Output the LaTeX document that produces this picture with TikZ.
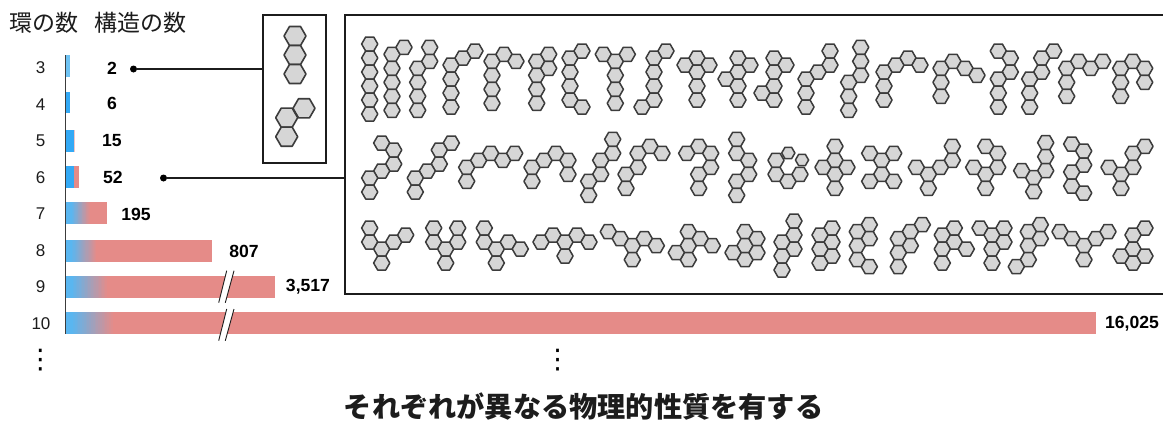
\documentclass[tikz,border=0pt]{standalone}
\usepackage{fontspec}
\setmainfont{Liberation Sans}
\newfontfamily\cjk{Noto Sans CJK JP}
\newfontfamily\symf{DejaVu Sans}
\definecolor{hexfill}{HTML}{D6D6D6}
\definecolor{hexline}{HTML}{3C3C3C}
\definecolor{barblue}{HTML}{5AB6F0}
\definecolor{barvivid}{HTML}{33A9F5}
\definecolor{barpale}{HTML}{6FC3F3}
\definecolor{barred}{HTML}{E58B88}
\definecolor{inkc}{HTML}{1C1C1C}
\tikzset{
  hexcell/.style={draw=hexline,fill=hexfill,line width=1.5pt,line join=round},
  bighex/.style={hexcell,line width=1.6pt},
  framebox/.style={draw=inkc,line width=1.5pt,inner sep=0pt,minimum width=63pt,minimum height=148pt},
  frameline/.style={draw=inkc,line width=1.5pt},
  leader/.style={draw=inkc,line width=1.5pt},
  dotend/.style={circle,fill=black,inner sep=0pt,minimum size=7pt},
  ringlabel/.style={font=\fontsize{17}{20}\selectfont,text=inkc,inner sep=0pt},
  countlabel/.style={font=\fontsize{17.6}{20}\selectfont\bfseries,text=black,inner sep=0pt},
  headlabel/.style={font=\cjk\fontsize{23}{26}\selectfont,text=inkc,inner sep=0pt,anchor=west},
  titlelabel/.style={font=\cjk\bfseries\fontsize{28.2}{32}\selectfont,text=inkc,inner sep=0pt},
  moredots/.style={font=\symf\fontsize{27}{30}\selectfont,text=black,inner sep=0pt},
  breakgap/.style={fill=white,draw=none},
  breakline/.style={draw=inkc,line width=0.9pt},
}
\newcommand{\hexmol}[3]{%
  \foreach \hq/\hr in {#3}{%
    \draw[hexcell,shift={({#1+12*\hq},{#2+7*\hr})}]
      (8.08,0)--(4.04,7)--(-4.04,7)--(-8.08,0)--(-4.04,-7)--(4.04,-7)--cycle;
  }%
}
\newcommand{\hexone}[4][hexcell]{%
  \draw[#1,shift={(#2,#3)}]
    (#4,0)--({#4/2},{#4*0.866})--({-#4/2},{#4*0.866})--(-#4,0)--({-#4/2},{-#4*0.866})--({#4/2},{-#4*0.866})--cycle;
}
\newcommand{\gradbar}[4]{% top, gradient start, gradient end, bar end
  \fill[barred] (#3,#1) rectangle (#4,{#1+22});
  \foreach \gi in {23,22,...,0}{%
    \pgfmathsetmacro{\gp}{\gi*100/23}%
    \pgfmathsetmacro{\gx}{#2+(#3-#2)*\gi/24}%
    \pgfmathsetmacro{\gxe}{#2+(#3-#2)*(\gi+1)/24}%
    \fill[barred!\gp!barblue] (\gx,#1) rectangle (\gxe+0.3,{#1+22});
  }%
  \fill[barblue] (66,#1) rectangle (#2,{#1+22});
}
\newcommand{\barbreak}[2]{% y top, y bottom
  \fill[breakgap] (226.7,#1) -- (234,#1) -- (225.3,#2) -- (218.7,#2) -- cycle;
  \draw[breakline] (226.7,#1) -- (218.7,#2);
  \draw[breakline] (234,#1) -- (225.3,#2);
}
\begin{document}
\begin{tikzpicture}[x=1pt,y=-1pt]
\path[use as bounding box,fill=white] (0,0) rectangle (1163,421);

% headers
\node[headlabel] (hring) at (9.5,23) {環の数};
\node[headlabel] (hcount) at (94,23) {構造の数};

% bars
\fill[barpale] (66,55) rectangle (69.5,77);
\fill[barvivid] (66,91.7) rectangle (69.5,113.4);
\fill[barvivid] (66,130) rectangle (73.5,151.7);
\fill[barred!50!white] (73.5,130) rectangle (74.3,151.7);
\fill[barvivid] (66,165.7) rectangle (74.3,187.7);
\fill[barred] (74.3,165.7) rectangle (79,187.7);
\gradbar{202}{71}{90}{107}
\gradbar{240}{71}{97}{212}
\gradbar{276}{71}{108}{275}
\gradbar{312.3}{71}{114}{1096}
\barbreak{270.7}{302.7}
\barbreak{309}{340.7}
\coordinate (axtop) at (65.5,55);
\coordinate (axbot) at (65.5,334);
\draw[draw=hexline,line width=1.1pt] (axtop) -- (axbot);

% ring labels
\node[ringlabel] (r3) at (40.5,68) {3};
\node[ringlabel] (r4) at (40.5,104.5) {4};
\node[ringlabel] (r5) at (40.5,141) {5};
\node[ringlabel] (r6) at (40.5,177.5) {6};
\node[ringlabel] (r7) at (40.5,214) {7};
\node[ringlabel] (r8) at (40.5,250.5) {8};
\node[ringlabel] (r9) at (40.5,287) {9};
\node[ringlabel] (r10) at (41,324) {10};

% counts
\node[countlabel] (c3) at (112,68.5) {2};
\node[countlabel] (c4) at (112,103) {6};
\node[countlabel] (c5) at (112,140.5) {15};
\node[countlabel] (c6) at (113,177.5) {52};
\node[countlabel] (c7) at (136,214) {195};
\node[countlabel] (c8) at (244,251) {807};
\node[countlabel] (c9) at (308,287) {3,517};
\node[countlabel] (c10) at (1132,324) {16,025};

% frames
\node[framebox] (inset) at (294.5,89) {};
\coordinate (bigTR) at (1163,15);
\coordinate (bigTL) at (345,15);
\coordinate (bigBL) at (345,294);
\coordinate (bigBR) at (1163,294);
\draw[frameline] (bigTR) -- (bigTL) -- (bigBL) -- (bigBR);

% connectors
\node[dotend] (dotA) at (133.5,69) {};
\node[dotend] (dotB) at (163.5,178) {};
\draw[leader] (dotA) -- (dotA -| inset.west);
\draw[leader] (dotB) -- (dotB -| bigTL);

% inset hexagons
\hexone[bighex]{295}{36}{11}
\hexone[bighex]{295}{55}{11}
\hexone[bighex]{295}{74}{11}
\hexone[bighex]{304}{108.3}{11}
\hexone[bighex]{286.7}{117.7}{11}
\hexone[bighex]{286.7}{136.7}{11}

% row 1
\hexmol{369.7}{44}{0/0,0/2,0/4,0/6,0/8,0/10}
\hexmol{392}{54.3}{0/0,0/2,0/4,0/6,0/8,1/-1}
\hexmol{417.7}{68.3}{0/0,0/2,0/4,0/6,1/-1,1/-3}
\hexmol{451}{65}{0/0,0/2,0/4,0/6,1/-1,2/-2}
\hexmol{492}{61.3}{0/0,0/2,0/4,0/6,1/-1,2/0}
\hexmol{536.7}{61.3}{0/0,0/2,0/4,0/6,1/-1,1/1}
\hexmol{570}{58}{0/0,0/2,0/4,0/6,1/-1,1/7}
\hexmol{603.3}{54.3}{0/0,1/1,1/3,1/5,1/7,2/0}
\hexmol{654}{58}{0/0,0/2,0/4,0/6,1/-1,-1/7}
\hexmol{697}{58}{0/0,-1/1,1/1,0/2,0/4,0/6}
\hexmol{738}{58}{0/0,1/1,0/2,-1/3,0/4,0/6}
\hexmol{774}{58}{0/0,1/1,0/2,0/4,-1/5,0/6}
\hexmol{830}{51}{0/0,0/2,-1/3,-2/4,-2/6,-2/8}
\hexmol{860.7}{47.3}{0/0,0/2,0/4,-1/5,-1/7,-1/9}
\hexmol{884}{72}{0/0,0/2,0/4,1/-1,2/-2,3/-1}
\hexmol{941}{68.3}{0/0,0/2,0/4,1/-1,2/0,3/1}
\hexmol{998.3}{51}{0/0,1/1,1/3,0/4,0/6,0/8}
\hexmol{1053.7}{51}{0/0,-1/1,-1/3,-2/4,-2/6,-2/8}
\hexmol{1066.7}{68.3}{0/0,0/2,0/4,1/-1,2/0,3/-1}
\hexmol{1120.7}{68.3}{0/0,0/2,0/4,1/-1,2/0,2/2}

% row 2
\hexmol{381.7}{143}{0/0,1/1,1/3,0/4,-1/5,-1/7}
\hexmol{451.3}{143}{0/0,-1/1,-1/3,-2/4,-3/5,-3/7}
\hexmol{466.7}{167.3}{0/0,0/2,1/-1,2/-2,3/-1,4/-2}
\hexmol{532}{167.3}{0/0,0/2,1/-1,2/-2,3/-1,3/1}
\hexmol{612.7}{139.3}{0/0,0/2,-1/3,-1/5,-2/6,-2/8}
\hexmol{650}{146.3}{0/0,-1/1,1/1,-1/3,-2/4,-2/6}
\hexmol{698.7}{146.3}{0/0,-1/1,1/1,1/3,0/4,0/6}
\hexmol{736.7}{139.3}{0/0,0/2,1/3,1/5,0/6,0/8}
\hexone{788.3}{153}{6.6}
\hexone{802}{160}{6.6}
\hexmol{776}{160.3}{0/0,0/2,1/3,2/2}
\hexmol{835}{146.3}{0/0,0/2,0/4,0/6,-1/3,1/3}
\hexmol{869.7}{153.3}{0/0,1/1,1/3,0/4,2/0,2/4}
\hexmol{952.3}{146.3}{0/0,0/2,-1/3,-2/4,-3/3,-2/6}
\hexmol{985.7}{146.3}{0/0,1/1,1/3,0/4,-1/3,0/6}
\hexmol{1045.7}{142.7}{0/0,0/2,0/4,-1/5,-2/4,-1/7}
\hexmol{1071.7}{144}{0/0,1/1,1/3,0/4,0/6,1/7}
\hexmol{1145}{146.3}{0/0,-1/1,-1/3,-2/4,-3/3,-2/6}

% row 3
\hexmol{369.7}{228}{0/0,0/2,1/3,1/5,2/2,3/1}
\hexmol{433.7}{228}{0/0,0/2,1/3,1/5,2/2,2/0}
\hexmol{484.3}{228}{0/0,0/2,1/3,1/5,2/2,3/3}
\hexmol{541}{242}{0/0,1/-1,2/0,2/2,3/-1,4/0}
\hexmol{608.3}{231.7}{0/0,1/1,2/2,2/4,3/1,4/2}
\hexmol{688.3}{231.7}{0/0,0/2,0/4,-1/3,1/1,2/2}
\hexmol{745}{231.7}{0/0,0/2,0/4,-1/3,1/1,1/3}
\hexmol{794}{221}{0/0,0/2,0/4,-1/3,-1/5,-1/7}
\hexmol{832}{228}{0/0,0/2,0/4,-1/1,-1/3,-1/5}
\hexmol{869.3}{224.7}{0/0,0/2,-1/1,-1/3,-1/5,0/6}
\hexmol{922.3}{224.7}{0/0,-1/1,-1/3,-2/2,-2/4,-2/6}
\hexmol{954.3}{228}{0/0,-1/1,0/2,-1/3,1/3,-1/5}
\hexmol{980}{228}{0/0,1/1,2/0,2/2,1/3,1/5}
\hexmol{1040.3}{224.7}{0/0,-1/1,0/2,-1/3,-1/5,-2/6}
\hexmol{1060}{231.7}{0/0,1/1,2/2,2/4,3/1,4/0}
\hexmol{1145}{228}{0/0,-1/1,-1/3,-1/5,-2/4,0/4}

% ellipses and title
\node[moredots] (moreL) at (40.5,360.5) {⋮};
\node[moredots] (moreR) at (557.7,360.5) {⋮};
\node[titlelabel] (title) at (583.5,407) {それぞれが異なる物理的性質を有する};
\end{tikzpicture}
\end{document}
